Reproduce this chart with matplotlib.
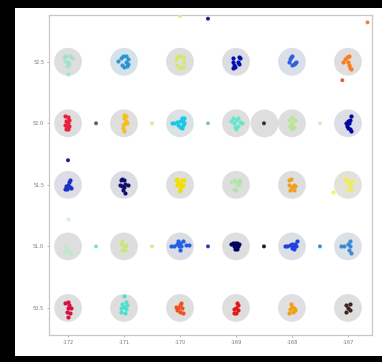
import matplotlib
matplotlib.use("Agg")
import matplotlib.pyplot as plt
from matplotlib.patches import Rectangle

# ---- data ----
x_ticks = [-172, -171, -170, -169, -168, -167]
y_ticks = [50.5, 51.0, 51.5, 52.0, 52.5]
x_tick_labels = ["-172", "-171", "-170", "-169", "-168", "-167"]
y_tick_labels = ["50.5", "51.0", "51.5", "52.0", "52.5"]

# cluster centres (lon, lat), point colour, circle colour
clu_lon = [-172, -171, -170, -169, -168, -167,
           -172, -171, -170, -169, -168, -167,
           -172, -171, -170, -169, -168, -167,
           -172, -171, -170, -169, -168, -167,
           -172, -171, -170, -169, -168, -167]
clu_lat = [52.5] * 6 + [52.0] * 6 + [51.5] * 6 + [51.0] * 6 + [50.5] * 6
clu_color = ["#7fe6c8", "#1f8fd0", "#d4ec40", "#0010b0", "#3060e0", "#ff7a1a",
             "#e8203a", "#f4c01e", "#18c8e6", "#50e8c8", "#a8e878", "#0008a0",
             "#1830c8", "#101070", "#f0e000", "#98e888", "#f0a020", "#f0f040",
             "#a8f0c0", "#c4e850", "#2060e8", "#000060", "#2040e0", "#3080d0",
             "#d81040", "#40e0d0", "#f05020", "#e01818", "#f0a010", "#402020"]
clu_alpha = [0.6, 0.9, 0.7, 1, 1, 1,
             1, 1, 1, 0.8, 0.7, 1,
             1, 1, 1, 0.55, 1, 0.8,
             0.55, 0.65, 1, 1, 1, 0.9,
             1, 0.9, 1, 1, 1, 1]
clu_bg = ["#dedede", "#d4e2ea", "#dedede", "#dcdde3", "#dadfe8", "#dedede",
          "#dedede", "#dedede", "#dae2e6", "#dedede", "#dedede", "#dcdde6",
          "#dcdde6", "#dcdde4", "#dedede", "#dedede", "#dedede", "#e2e2d8",
          "#dedede", "#dedede", "#dcdde4", "#dedede", "#dcdfe6", "#dae1e8",
          "#dedede", "#dedede", "#dedede", "#dedede", "#e0e0e4", "#dedede"]

# point offsets (dlon, dlat) for each cluster
clu_points = [
    [(-0.08, 0.04), (-0.03, 0.05), (0.03, 0.045), (0.07, 0.03), (-0.05, 0.01), (0.0, 0.0), (0.02, -0.02), (-0.02, -0.035), (0.0, -0.1)],
    [(-0.1, 0.01), (-0.06, 0.03), (-0.02, 0.045), (0.04, 0.05), (0.07, 0.02), (0.03, 0.0), (0.08, -0.02), (-0.03, -0.03), (0.0, -0.04), (0.05, -0.035)],
    [(-0.08, 0.02), (-0.05, 0.045), (0.0, 0.05), (0.05, 0.04), (0.08, 0.0), (0.05, -0.04), (0.0, -0.05), (-0.06, -0.03)],
    [(-0.06, 0.03), (-0.05, 0.0), (-0.04, -0.03), (-0.02, -0.045), (-0.06, -0.05), (0.05, 0.04), (0.08, 0.03), (0.03, 0.0), (0.06, -0.02)],
    [(-0.06, 0.0), (-0.04, 0.02), (-0.02, 0.035), (0.0, 0.045), (0.0, -0.03), (0.03, -0.02), (0.05, -0.01), (0.07, 0.0)],
    [(-0.08, 0.0), (-0.05, 0.02), (-0.02, 0.04), (0.02, 0.05), (0.0, 0.0), (0.02, -0.03), (0.04, -0.05), (0.06, -0.06)],

    [(-0.05, 0.06), (0.0, 0.05), (0.02, 0.03), (-0.03, 0.02), (0.0, 0.0), (-0.05, -0.01), (-0.02, -0.03), (0.0, -0.05), (-0.04, -0.05), (0.02, -0.02)],
    [(0.0, 0.07), (0.03, 0.06), (0.0, 0.04), (0.04, 0.02), (0.02, 0.0), (-0.02, -0.01), (-0.01, -0.04), (0.0, -0.06), (0.05, 0.0)],
    [(-0.15, 0.0), (-0.1, 0.0), (-0.06, 0.01), (-0.03, -0.01), (0.0, 0.02), (0.03, 0.04), (0.06, 0.02), (0.05, -0.01), (0.08, 0.0), (0.04, -0.04), (0.0, -0.03), (0.08, 0.04)],
    [(-0.09, 0.02), (-0.06, 0.04), (-0.03, 0.0), (0.0, 0.03), (0.04, 0.04), (0.07, 0.01), (0.03, -0.02), (-0.02, -0.03), (0.0, -0.05), (0.1, 0.0)],
    [(-0.05, 0.03), (0.0, 0.05), (0.05, 0.03), (0.0, 0.0), (-0.03, -0.02), (0.03, -0.03), (0.0, -0.05)],
    [(0.05, 0.06), (0.03, 0.03), (0.0, 0.02), (-0.04, 0.0), (-0.02, -0.02), (0.0, -0.04), (0.03, -0.05), (0.06, -0.06), (0.02, 0.0)],

    [(0.03, 0.04), (0.02, 0.02), (0.0, 0.0), (-0.03, -0.01), (-0.06, -0.03), (-0.02, -0.03), (0.03, -0.02), (0.05, -0.025)],
    [(-0.06, 0.04), (-0.03, 0.05), (0.0, 0.04), (0.01, 0.01), (-0.08, 0.0), (-0.04, -0.01), (0.0, -0.02), (0.08, 0.0), (0.02, -0.07), (-0.02, -0.04)],
    [(-0.08, 0.04), (-0.05, 0.05), (-0.03, 0.02), (0.0, 0.01), (0.03, 0.04), (0.07, 0.04), (0.05, 0.0), (0.0, -0.03), (-0.05, 0.0), (0.02, -0.02), (0.0, -0.05)],
    [(-0.08, 0.02), (-0.04, 0.04), (0.0, 0.02), (0.05, 0.04), (0.08, 0.02), (0.03, 0.0), (-0.03, -0.03), (0.0, -0.04)],
    [(-0.06, 0.04), (-0.02, 0.05), (-0.05, 0.0), (-0.04, -0.04), (0.0, -0.02), (0.03, 0.0), (0.06, -0.01), (0.04, -0.04)],
    [(-0.06, 0.04), (-0.03, 0.05), (0.0, 0.02), (0.03, 0.0), (0.0, -0.03), (0.06, -0.03), (0.08, 0.03), (-0.27, -0.06)],

    [(-0.05, 0.0), (-0.03, -0.02), (0.02, -0.04), (0.05, -0.06), (-0.06, -0.05), (0.0, 0.22)],
    [(-0.06, 0.02), (-0.03, 0.04), (0.0, 0.0), (0.03, 0.01), (0.02, -0.03), (-0.04, -0.03)],
    [(-0.16, 0.0), (-0.1, 0.0), (-0.06, 0.02), (-0.03, 0.04), (0.0, 0.03), (-0.02, 0.0), (0.02, 0.0), (0.0, -0.03), (0.1, 0.01), (0.16, 0.01), (0.05, 0.04)],
    [(-0.08, 0.02), (-0.05, 0.03), (-0.02, 0.03), (0.02, 0.03), (0.06, 0.02), (-0.04, 0.0), (0.0, 0.0), (0.04, 0.0), (-0.02, -0.02), (0.02, -0.02)],
    [(-0.12, 0.0), (-0.08, 0.0), (-0.04, 0.01), (0.0, 0.02), (0.03, 0.0), (0.06, 0.02), (0.09, 0.04), (0.04, -0.02), (0.0, -0.01), (0.08, 0.0)],
    [(-0.12, 0.0), (-0.07, 0.0), (0.0, 0.02), (0.03, 0.04), (0.04, 0.0), (0.02, -0.03), (0.05, -0.05)],

    [(-0.05, 0.04), (0.0, 0.05), (0.02, 0.02), (0.05, 0.0), (0.0, 0.0), (-0.02, -0.03), (0.03, -0.04), (0.0, -0.07)],
    [(0.0, 0.1), (-0.04, 0.03), (-0.06, 0.0), (0.0, 0.01), (0.03, -0.01), (0.06, 0.02), (0.04, 0.05), (-0.05, -0.03), (0.02, -0.04)],
    [(-0.05, -0.02), (-0.03, 0.0), (0.0, 0.02), (0.02, 0.04), (0.04, 0.0), (0.0, -0.03), (0.05, -0.04), (-0.07, 0.01)],
    [(0.02, 0.04), (0.03, 0.02), (0.0, 0.0), (-0.04, -0.01), (0.03, -0.02), (0.0, -0.04), (-0.03, -0.04)],
    [(-0.06, -0.04), (-0.04, -0.01), (-0.02, 0.03), (0.0, 0.01), (0.03, 0.0), (0.06, -0.02), (0.02, -0.03)],
    [(-0.04, 0.02), (0.03, 0.03), (0.0, 0.0), (-0.04, -0.03), (0.04, -0.02)],
]

# extra gray circle with a single dark point
extra_circle_lon = [-168.5]
extra_circle_lat = [52.0]

# isolated points between / around the circles
iso_lon = [-171.5, -170.5, -169.5, -168.5, -167.5,
           -171.5, -170.5, -169.5, -168.5, -167.5,
           -170.0, -169.5, -166.65, -167.1, -172.0]
iso_lat = [52.0, 52.0, 52.0, 52.0, 52.0,
           51.0, 51.0, 51.0, 51.0, 51.0,
           52.87, 52.85, 52.82, 52.35, 51.7]
iso_color = ["#805060", "#e8e0a0", "#80c8b0", "#303040", "#e0e8c0",
             "#80e0d0", "#e0e890", "#2040d0", "#202020", "#4090d0",
             "#e8e890", "#1a1aa0", "#f08040", "#e06040", "#1020a0"]

# ---- figure ----
fig = plt.figure(figsize=(3.82, 3.62), dpi=100, facecolor="black")
bg = Rectangle((15 / 382, 6 / 362), 1 - 15 / 382, (356 - 8) / 362,
               transform=fig.transFigure, facecolor="white",
               edgecolor="none", zorder=-10)
fig.add_artist(bg)
ax = fig.add_axes([49 / 382, 27 / 362, 323 / 382, 320 / 362])
ax.set_zorder(5)
ax.set_facecolor("white")

# circles
ax.scatter(clu_lon, clu_lat, s=400, c=clu_bg, linewidths=0, zorder=1)
ax.scatter(extra_circle_lon, extra_circle_lat, s=400, c="#dedede", linewidths=0, zorder=1)

# cluster points
for lon, lat, col, a, pts in zip(clu_lon, clu_lat, clu_color, clu_alpha, clu_points):
    xs = [lon + d[0] for d in pts]
    ys = [lat + d[1] for d in pts]
    ax.scatter(xs, ys, s=9, c=col, alpha=a, linewidths=0, zorder=3)

# isolated points
ax.scatter(iso_lon, iso_lat, s=8, c=iso_color, linewidths=0, zorder=3)

ax.set_xlim(-172.34, -166.57)
ax.set_ylim(50.28, 52.88)
ax.set_xticks(x_ticks)
ax.set_xticklabels(x_tick_labels)
ax.set_yticks(y_ticks)
ax.set_yticklabels(y_tick_labels)
ax.tick_params(labelsize=3.6, colors="#777777", length=1.5, width=0.4, pad=2)
for sp in ax.spines.values():
    sp.set_color("#c8c8c8")
    sp.set_linewidth(0.9)

fig.savefig("out.png", dpi=100, facecolor="black")
